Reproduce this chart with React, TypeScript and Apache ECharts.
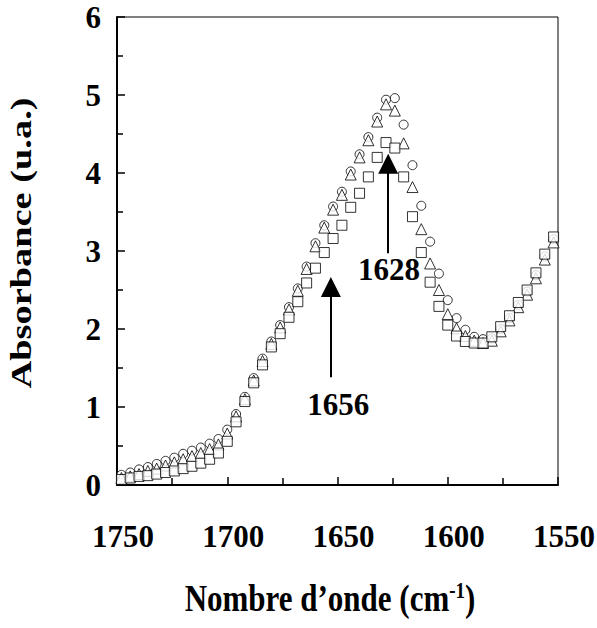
import React, { useEffect, useRef } from "react";
import * as echarts from "echarts";

const wavenumbers = [
  1748, 1744, 1740, 1736, 1732, 1728, 1724, 1720, 1716, 1712,
  1708, 1704, 1700, 1696, 1692, 1688, 1684, 1680, 1676, 1672,
  1668, 1664, 1660, 1656, 1652, 1648, 1644, 1640, 1636, 1632,
  1628, 1624, 1620, 1616, 1612, 1608, 1604, 1600, 1596, 1592,
  1588, 1584, 1580, 1576, 1572, 1568, 1564, 1560, 1556, 1552,
];

const circleValues = [
  0.13, 0.16, 0.2, 0.23, 0.27, 0.31, 0.35, 0.4, 0.44, 0.48,
  0.53, 0.59, 0.71, 0.91, 1.13, 1.37, 1.62, 1.84, 2.05, 2.28,
  2.52, 2.8, 3.1, 3.33, 3.57, 3.76, 4.02, 4.24, 4.46, 4.71,
  4.94, 4.96, 4.62, 4.1, 3.58, 3.12, 2.71, 2.37, 2.14, 1.99,
  1.9, 1.87, 1.88, 2.0, 2.14, 2.31, 2.48, 2.69, 2.93, 3.15,
];

const triangleValues = [
  0.09, 0.11, 0.14, 0.18, 0.21, 0.25, 0.29, 0.33, 0.37, 0.41,
  0.46, 0.52, 0.66, 0.88, 1.1, 1.34, 1.59, 1.81, 2.02, 2.25,
  2.49, 2.77, 3.06, 3.3, 3.53, 3.72, 3.98, 4.2, 4.42, 4.66,
  4.88, 4.8, 4.38, 3.82, 3.28, 2.84, 2.5, 2.19, 2.01, 1.91,
  1.85, 1.82, 1.85, 1.97, 2.11, 2.28, 2.44, 2.65, 2.89, 3.11,
];

const squareValues = [
  0.07, 0.09, 0.11, 0.12, 0.14, 0.16, 0.18, 0.21, 0.24, 0.28,
  0.33, 0.41, 0.56, 0.81, 1.07, 1.31, 1.54, 1.77, 1.94, 2.15,
  2.35, 2.59, 2.78, 2.98, 3.16, 3.33, 3.56, 3.74, 3.95, 4.2,
  4.39, 4.32, 3.95, 3.44, 2.98, 2.6, 2.29, 2.05, 1.91, 1.84,
  1.82, 1.82, 1.9, 2.03, 2.17, 2.34, 2.5, 2.72, 2.96, 3.18,
];

// Annotation arrows: [x (cm-1), y start, y end]
const arrow1656 = [1653, 1.38, 2.54];
const arrow1628 = [1627, 2.97, 4.12];
const annotationLabels = [
  { name: "1656", x: 1649.7, y: 1.03 },
  { name: "1628", x: 1626.7, y: 2.76 },
];

const xTitle = "Nombre d’onde (cm";
const xTitleSup = "-1";
const yTitle = "Absorbance (u.a.)";

const FONT = "'Liberation Serif', 'Times New Roman', Times, serif";

export default function App() {
  const ref = useRef<HTMLDivElement>(null);

  useEffect(() => {
    if (!ref.current) return;
    const chart = echarts.init(ref.current, undefined, { renderer: "svg" });

    const mk = (vals: number[]) => wavenumbers.map((w, i) => [w, vals[i]]);
    const markerStyle = { color: "#fff", borderColor: "#000", borderWidth: 1 };

    chart.setOption({
      animation: false,
      backgroundColor: "#fff",
      grid: {
        left: 117,
        right: 39,
        top: 17,
        bottom: 143,
        show: true,
        borderColor: "#000",
        borderWidth: 1,
        containLabel: false,
        outerBoundsMode: "none",
      },
      xAxis: {
        type: "value",
        inverse: true,
        min: 1550,
        max: 1750,
        interval: 50,
        axisLine: { show: true, onZero: false, lineStyle: { color: "#000", width: 2 } },
        axisTick: { show: true, inside: true, length: 8, lineStyle: { color: "#000", width: 1.5 } },
        minorTick: { show: true, splitNumber: 2, length: 7, lineStyle: { color: "#000", width: 1.5 } },
        splitLine: { show: false },
        minorSplitLine: { show: false },
        axisLabel: {
          fontSize: 31,
          fontWeight: "bold",
          fontFamily: FONT,
          color: "#000",
          margin: 36,
          padding: [0, 0, 0, 12],
          formatter: (v: number) => String(v),
        },
      },
      yAxis: {
        type: "value",
        min: 0,
        max: 6,
        interval: 1,
        axisLine: { show: true, onZero: false, lineStyle: { color: "#000", width: 2 } },
        axisTick: { show: true, inside: true, length: 8, lineStyle: { color: "#000", width: 1.5 } },
        minorTick: { show: true, splitNumber: 2, length: 6, lineStyle: { color: "#000", width: 1.5 } },
        splitLine: { show: false },
        minorSplitLine: { show: false },
        axisLabel: {
          fontSize: 31,
          fontWeight: "bold",
          fontFamily: FONT,
          color: "#000",
          margin: 16,
          padding: [10, 0, 0, 0],
          formatter: (v: number) => String(v),
        },
      },
      series: [
        {
          name: "circles",
          type: "scatter",
          symbol: "circle",
          symbolSize: 9,
          itemStyle: markerStyle,
          data: mk(circleValues),
          z: 2,
        },
        {
          name: "triangles",
          type: "scatter",
          symbol: "triangle",
          symbolSize: [11, 11],
          itemStyle: markerStyle,
          data: mk(triangleValues),
          z: 3,
        },
        {
          name: "squares",
          type: "scatter",
          symbol: "rect",
          symbolSize: 10,
          itemStyle: markerStyle,
          data: mk(squareValues),
          z: 4,
          markLine: {
            silent: true,
            symbol: ["none", "triangle"],
            symbolSize: 20,
            label: { show: false },
            lineStyle: { color: "#000", width: 2, type: "solid" },
            itemStyle: { color: "#000" },
            data: [
              [
                { coord: [arrow1656[0], arrow1656[1]] },
                { coord: [arrow1656[0], arrow1656[2]] },
              ],
              [
                { coord: [arrow1628[0], arrow1628[1]] },
                { coord: [arrow1628[0], arrow1628[2]] },
              ],
            ],
          },
          markPoint: {
            silent: true,
            symbol: "circle",
            symbolSize: 1,
            itemStyle: { color: "rgba(0,0,0,0)" },
            label: {
              show: true,
              position: "inside",
              formatter: "{b}",
              fontSize: 31,
              fontWeight: "bold",
              fontFamily: FONT,
              color: "#000",
            },
            data: annotationLabels.map((a) => ({ name: a.name, coord: [a.x, a.y] })),
          },
        },
      ],
      graphic: [
        {
          type: "text",
          x: 21,
          y: 243,
          rotation: Math.PI / 2,
          scaleX: 1.28,
          style: {
            text: yTitle,
            font: `bold 30px ${FONT}`,
            fill: "#000",
            align: "center",
            verticalAlign: "middle",
          },
        },
        {
          type: "text",
          x: 330,
          y: 598,
          scaleY: 1.2,
          style: {
            text: `{m|${xTitle}}{s|${xTitleSup}}{m|)}`,
            fill: "#000",
            align: "center",
            verticalAlign: "middle",
            rich: {
              m: { fontSize: 31, fontWeight: "bold", fontFamily: FONT, color: "#000", verticalAlign: "bottom" },
              s: { fontSize: 19, fontWeight: "bold", fontFamily: FONT, color: "#000", verticalAlign: "top" },
            },
          },
        },
      ],
    });

    return () => chart.dispose();
  }, []);

  return (
    <div
      ref={ref}
      style={{ position: "fixed", left: 0, top: 0, width: 597, height: 628, background: "#fff" }}
    />
  );
}
